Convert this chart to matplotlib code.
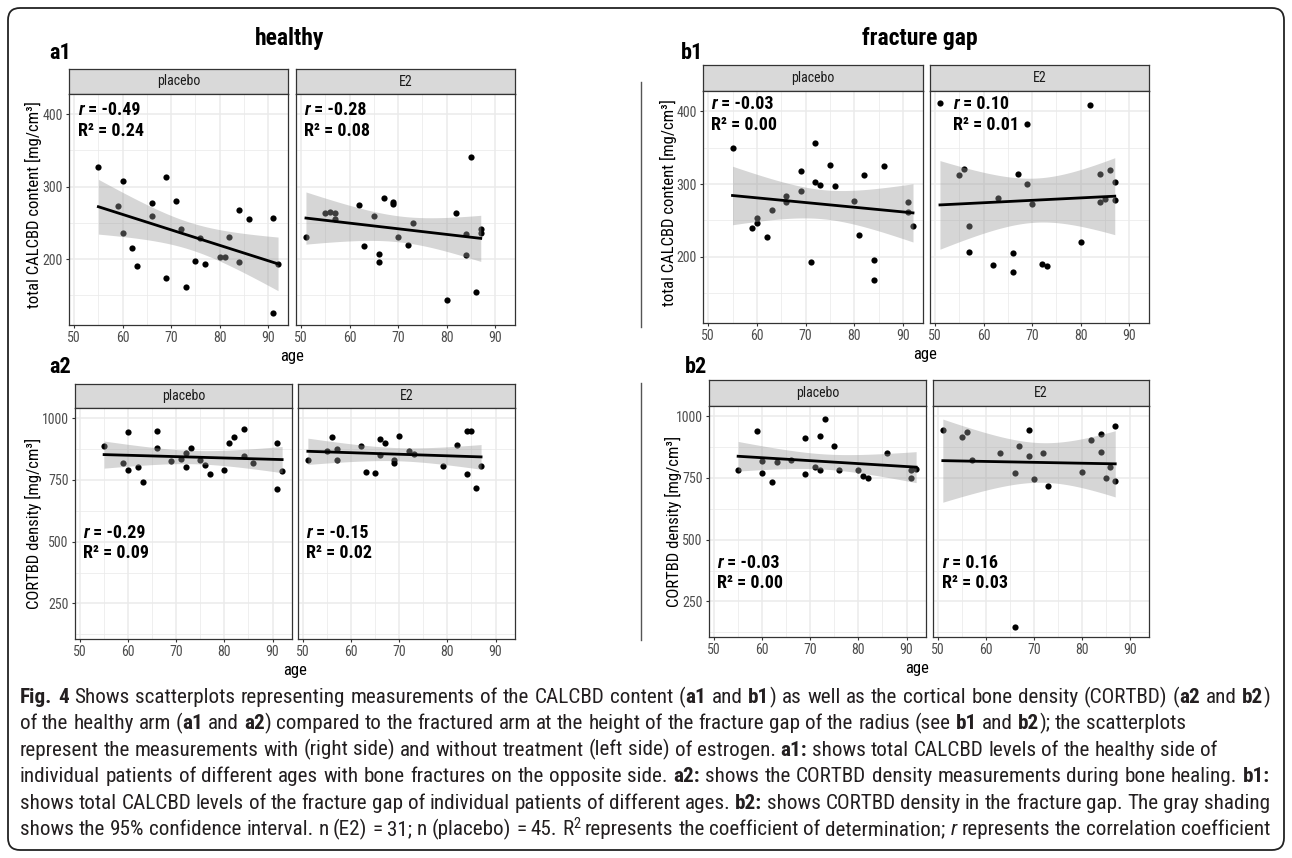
import numpy as np
import matplotlib
matplotlib.use('Agg')
import matplotlib.pyplot as plt
from matplotlib.patches import FancyBboxPatch
import logging

# ── DATA ─────────────────────────────────────────────────────────────────────
a1_pl_age = [55, 59, 60, 60, 62, 63, 66, 66, 69, 69, 71, 72, 73, 75, 76, 77, 80, 81, 82, 84, 84, 86, 91, 91, 92]
a1_pl_val = [327, 274, 308, 236, 215, 191, 277, 260, 314, 174, 280, 241, 162, 197, 229, 193, 203, 203, 230, 268, 196, 255, 257, 125, 193]
a1_e2_age = [51, 55, 56, 57, 57, 62, 63, 65, 66, 66, 67, 69, 69, 70, 72, 73, 80, 82, 84, 84, 85, 86, 87, 87]
a1_e2_val = [231, 264, 265, 263, 256, 275, 218, 259, 207, 196, 285, 279, 276, 231, 220, 250, 144, 264, 234, 205, 341, 154, 242, 236]

a2_pl_age = [55, 59, 60, 60, 62, 63, 66, 66, 69, 71, 72, 72, 73, 75, 76, 77, 80, 81, 82, 84, 84, 86, 91, 91, 92]
a2_pl_val = [888, 818, 944, 789, 803, 741, 947, 879, 826, 834, 857, 804, 879, 830, 810, 772, 792, 900, 922, 955, 846, 819, 899, 713, 785]
a2_e2_age = [51, 55, 56, 57, 57, 62, 63, 65, 66, 66, 67, 69, 69, 70, 72, 73, 79, 82, 84, 85, 84, 86, 87]
a2_e2_val = [830, 867, 923, 877, 831, 889, 782, 778, 917, 850, 900, 831, 819, 928, 867, 855, 808, 893, 947, 947, 775, 718, 808]

b1_pl_age = [55, 59, 60, 60, 62, 63, 66, 66, 69, 69, 71, 72, 72, 73, 75, 76, 80, 81, 82, 84, 84, 86, 91, 91, 92]
b1_pl_val = [349, 239, 253, 246, 227, 265, 283, 276, 318, 290, 193, 356, 303, 299, 326, 297, 277, 230, 313, 196, 168, 325, 275, 261, 243]
b1_e2_age = [51, 55, 56, 57, 57, 62, 63, 66, 66, 67, 69, 69, 70, 72, 73, 80, 82, 84, 84, 85, 86, 87, 87]
b1_e2_val = [412, 313, 321, 242, 206, 189, 281, 205, 179, 314, 383, 300, 272, 190, 188, 221, 409, 314, 275, 279, 319, 303, 278]

b2_pl_age = [55, 59, 60, 60, 62, 63, 66, 69, 69, 71, 72, 72, 73, 75, 76, 80, 81, 82, 86, 91, 91, 92]
b2_pl_val = [780, 938, 820, 768, 734, 816, 823, 912, 765, 796, 918, 782, 987, 878, 781, 782, 757, 750, 850, 751, 780, 788]
b2_e2_age = [51, 55, 56, 57, 63, 66, 66, 67, 69, 69, 70, 72, 73, 80, 82, 84, 84, 85, 86, 87, 87]
b2_e2_val = [945, 914, 934, 823, 851, 770, 145, 881, 945, 837, 745, 849, 719, 774, 903, 927, 853, 751, 795, 961, 737]

groups = ['placebo', 'E2']
r_text = {'a1': ['-0.49', '-0.28'], 'a2': ['-0.29', '-0.15'],
          'b1': ['-0.03', '0.10'], 'b2': ['-0.03', '0.16']}
r2_text = {'a1': ['0.24', '0.08'], 'a2': ['0.09', '0.02'],
           'b1': ['0.00', '0.01'], 'b2': ['0.00', '0.03']}

x_ticks = [50, 60, 70, 80, 90]
calc_ticks = [200, 300, 400]
cort_ticks = [250, 500, 750, 1000]

# ── STYLE ────────────────────────────────────────────────────────────────────
FAM = ['Liberation Sans Narrow', 'Arial Narrow', 'Roboto Condensed', 'Archivo Narrow',
       'PT Sans Narrow', 'Liberation Sans', 'DejaVu Sans']
logging.getLogger('matplotlib.font_manager').setLevel(logging.ERROR)
plt.rcParams['font.family'] = FAM
W, H = 1292, 858
BORDER = '#333333'
GRID = '#ebebeb'
TICKLAB = '#4d4d4d'

fig = plt.figure(figsize=(W / 100, H / 100), dpi=100)
fig.patch.set_facecolor('white')
renderer = fig.canvas.get_renderer()

# full-figure overlay in pixel units (y downwards)
bg = fig.add_axes([0, 0, 1, 1])
bg.set_xlim(0, W)
bg.set_ylim(H, 0)
bg.axis('off')
bg.add_patch(FancyBboxPatch((8, 8), W - 16, H - 16, boxstyle='round,pad=0,rounding_size=12',
                            fc='none', ec='#222222', lw=1.3))
bg.plot([641, 641], [82, 327], color='#555555', lw=1.0)
bg.plot([641, 641], [383, 640], color='#555555', lw=1.0)


def fbox(x0, x1, y0, y1):
    return [x0 / W, 1 - y1 / H, (x1 - x0) / W, (y1 - y0) / H]


def fit_band(x, y):
    x = np.asarray(x, float)
    y = np.asarray(y, float)
    n = len(x)
    b, a = np.polyfit(x, y, 1)
    xs = np.linspace(x.min(), x.max(), 100)
    yhat = a + b * xs
    resid = y - (a + b * x)
    s = np.sqrt(np.sum(resid ** 2) / (n - 2))
    sxx = np.sum((x - x.mean()) ** 2)
    se = s * np.sqrt(1 / n + (xs - x.mean()) ** 2 / sxx)
    df = n - 2
    z = 1.959964
    t = z + (z ** 3 + z) / (4 * df) + (5 * z ** 5 + 16 * z ** 3 + 3 * z) / (96 * df ** 2)
    return xs, yhat, yhat - t * se, yhat + t * se


STAT_FS = 13


def facet(x0, x1, strip_top, top, bottom, name, age, val, ylim, yticks, first,
          tx, ry, r2y, r, r2):
    sax = fig.add_axes(fbox(x0, x1, strip_top, top))
    sax.set_facecolor('#d9d9d9')
    sax.set_xticks([])
    sax.set_yticks([])
    for sp in sax.spines.values():
        sp.set_color(BORDER)
        sp.set_linewidth(0.9)
    sax.text(0.5, 0.5, name, transform=sax.transAxes, ha='center', va='center',
             fontsize=10, color='#1a1a1a')

    ax = fig.add_axes(fbox(x0, x1, top, bottom))
    ax.set_xlim(48.95, 94.05)
    ax.set_ylim(*ylim)
    ax.set_xticks(x_ticks)
    ax.set_xticks([55, 65, 75, 85], minor=True)
    ax.set_yticks(yticks)
    step = yticks[1] - yticks[0]
    ax.set_yticks([v - step / 2 for v in yticks], minor=True)
    ax.grid(True, which='major', color=GRID, lw=1.1)
    ax.grid(True, which='minor', color=GRID, lw=0.55)
    ax.set_axisbelow(True)
    for sp in ax.spines.values():
        sp.set_color(BORDER)
        sp.set_linewidth(0.9)
    ax.tick_params(which='major', length=2.5, width=0.8, color=BORDER,
                   labelsize=10, labelcolor=TICKLAB, pad=2)
    ax.tick_params(which='minor', length=0)
    if not first:
        ax.tick_params(axis='y', which='both', length=0, labelleft=False)

    ax.scatter(age, val, s=20, color='black', lw=0, zorder=2)
    xs, yh, lo, hi = fit_band(age, val)
    ax.fill_between(xs, lo, hi, color='#999999', alpha=0.4, lw=0, zorder=3)
    ax.plot(xs, yh, color='black', lw=2.0, zorder=4)

    t = ax.text(tx, ry, 'r', style='italic', fontweight='bold', fontsize=STAT_FS,
                va='center', ha='left')
    w = t.get_window_extent(renderer).width
    ax.annotate(' = ' + r, xy=(tx, ry), xytext=(w * 72 / 100, 0), textcoords='offset points',
                fontweight='bold', fontsize=STAT_FS, va='center', ha='left')
    ax.text(tx, r2y, 'R² = ' + r2, fontweight='bold', fontsize=STAT_FS, va='center', ha='left')
    return ax


calc_lim = (109, 428)
cort_lim = (106, 1041)

panels = [
    # key, placebo x-range, E2 x-range, strip top, panel top, bottom, data, ylim, ticks, text x, r y, R2 y
    ('a1', (69, 288), (296, 515), 69, 94, 325, (a1_pl_age, a1_pl_val, a1_e2_age, a1_e2_val),
     calc_lim, calc_ticks, (50.9, 50.7), 406, 377),
    ('a2', (75, 292), (298, 515), 384, 408, 639, (a2_pl_age, a2_pl_val, a2_e2_age, a2_e2_val),
     cort_lim, cort_ticks, (50.7, 50.7), 537, 453),
    ('b1', (703, 923), (930, 1149), 65, 91, 323, (b1_pl_age, b1_pl_val, b1_e2_age, b1_e2_val),
     calc_lim, calc_ticks, (50.6, 53.7), 410, 381),
    ('b2', (709, 926), (933, 1149), 380, 406, 637, (b2_pl_age, b2_pl_val, b2_e2_age, b2_e2_val),
     cort_lim, cort_ticks, (50.7, 50.8), 406, 323),
]

for key, pl_x, e2_x, st, top, bot, data, ylim, ticks, txs, ry, r2y in panels:
    facet(pl_x[0], pl_x[1], st, top, bot, groups[0], data[0], data[1], ylim, ticks, True,
          txs[0], ry, r2y, r_text[key][0], r2_text[key][0])
    facet(e2_x[0], e2_x[1], st, top, bot, groups[1], data[2], data[3], ylim, ticks, False,
          txs[1], ry, r2y, r_text[key][1], r2_text[key][1])

# ── PANEL LABELS / TITLES ────────────────────────────────────────────────────
bg.text(290, 38, 'healthy', fontsize=17, fontweight='bold', ha='center', va='center')
bg.text(920, 38, 'fracture gap', fontsize=17, fontweight='bold', ha='center', va='center')
for lab, (x, y) in {'a1': (60, 53), 'a2': (60, 367), 'b1': (692, 53), 'b2': (696, 367)}.items():
    bg.text(x, y, lab, fontsize=16, fontweight='bold', ha='center', va='center')

bg.text(33, 205, 'total CALCBD content [mg/cm³]', rotation=90, fontsize=12, ha='center', va='center')
bg.text(668, 203, 'total CALCBD content [mg/cm³]', rotation=90, fontsize=12, ha='center', va='center')
bg.text(33, 523, 'CORTBD density [mg/cm³]', rotation=90, fontsize=12, ha='center', va='center')
bg.text(673, 521, 'CORTBD density [mg/cm³]', rotation=90, fontsize=12, ha='center', va='center')
bg.text(292, 357, 'age', fontsize=12, ha='center', va='center')
bg.text(925, 355, 'age', fontsize=12, ha='center', va='center')
bg.text(295, 671, 'age', fontsize=12, ha='center', va='center')
bg.text(917, 668, 'age', fontsize=12, ha='center', va='center')

# ── CAPTION ──────────────────────────────────────────────────────────────────
N, B, I, S = 'n', 'b', 'i', 's'
caption = [
    [('Fig. 4', B), (' Shows scatterplots representing measurements of the CALCBD content (', N),
     ('a1', B), (' and ', N), ('b1', B), (') as well as the cortical bone density (CORTBD) (', N),
     ('a2', B), (' and ', N), ('b2', B), (')', N)],
    [('of the healthy arm (', N), ('a1', B), (' and ', N), ('a2', B),
     (') compared to the fractured arm at the height of the fracture gap of the radius (see ', N),
     ('b1', B), (' and ', N), ('b2', B), ('); the scatterplots', N)],
    [('represent the measurements with (right side) and without treatment (left side) of estrogen. ', N),
     ('a1:', B), (' shows total CALCBD levels of the healthy side of', N)],
    [('individual patients of different ages with bone fractures on the opposite side. ', N),
     ('a2:', B), (' shows the CORTBD density measurements during bone healing. ', N), ('b1:', B)],
    [('shows total CALCBD levels of the fracture gap of individual patients of different ages. ', N),
     ('b2:', B), (' shows CORTBD density in the fracture gap. The gray shading', N)],
    [('shows the 95% confidence interval. n (E2) = 31; n (placebo) = 45. R', N), ('2', S),
     (' represents the coefficient of determination; ', N), ('r', I),
     (' represents the correlation coefficient', N)],
]
full_lines = [0, 3, 4, 5]   # lines that run to the right margin
CAP_COLOR = '#231f20'
CAP_X0, CAP_W = 20, 1250


def style_kw(st, size):
    if st == B:
        return dict(fontweight='bold', fontsize=size)
    if st == I:
        return dict(style='italic', fontsize=size)
    if st == S:
        return dict(fontsize=size * 0.68)
    return dict(fontsize=size)


def draw_line(segs, x0, y, size, target=None, keep=True):
    sp = bg.text(0, 0, 'a a', fontsize=size)
    sp2 = bg.text(0, 0, 'aa', fontsize=size)
    space = sp.get_window_extent(renderer).width - sp2.get_window_extent(renderer).width
    sp.remove()
    sp2.remove()
    # measure words first
    words = []   # (piece, style, width, space_before)
    gap_count = 0
    for text, st in segs:
        for k, piece in enumerate(text.split(' ')):
            gap = k > 0
            gap_count += gap
            w = 0
            if piece:
                t = bg.text(0, 0, piece, **style_kw(st, size))
                w = t.get_window_extent(renderer).width
                t.remove()
            words.append((piece, st, w, gap))
    natural = sum(w for _, _, w, _ in words) + gap_count * space
    if not keep:
        return natural
    gap_w = space
    if target is not None and gap_count:
        gap_w = space + (target - natural) / gap_count
    x = x0
    for piece, st, w, gap in words:
        if gap:
            x += gap_w
        if piece:
            yy = y - size * 0.45 if st == S else y
            bg.text(x, yy, piece, ha='left', va='baseline', color=CAP_COLOR, **style_kw(st, size))
            x += w
    return natural


base = 13
widest = max(draw_line(line, CAP_X0, 0, base, keep=False) for line in caption)
cap_size = base * CAP_W / widest
for i, line in enumerate(caption):
    draw_line(line, CAP_X0, 703 + i * 26.4, cap_size,
              target=CAP_W if i in full_lines else None)

plt.savefig('out.png', dpi=100, facecolor='white')
plt.close()
